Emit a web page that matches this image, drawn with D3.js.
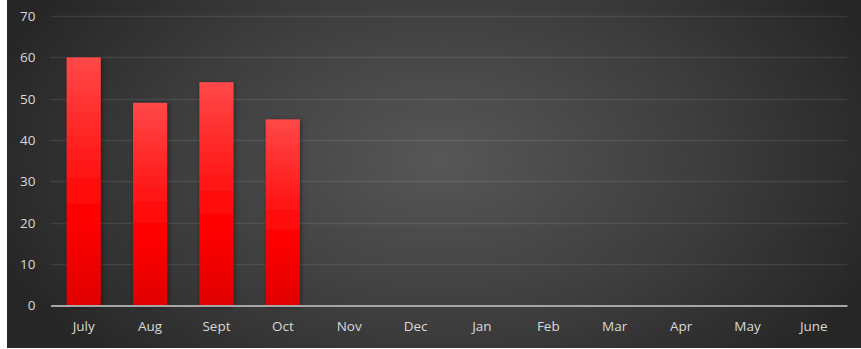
<!DOCTYPE html>
<html>
<head>
<meta charset="utf-8">
<script src="https://cdn.jsdelivr.net/npm/d3@7"></script>
<style>
  html, body { margin: 0; padding: 0; background: #ffffff; }
  svg { display: block; }
</style>
</head>
<body>
<svg id="chart" width="861" height="349"></svg>
<script>
// Monthly values (fiscal year July–June); only the first four months are filled in
const months = ["July", "Aug", "Sept", "Oct", "Nov", "Dec", "Jan", "Feb", "Mar", "Apr", "May", "June"];
const values = [60, 49, 54, 45, null, null, null, null, null, null, null, null];
const yTicks = [0, 10, 20, 30, 40, 50, 60, 70];

const W = 861, H = 349;
const margin = { left: 50.5, right: 14, top: 16, bottom: 43.5 };
const svg = d3.select("#chart");
const defs = svg.append("defs");

// Dark panel with a soft glow in the middle
const bg = defs.append("radialGradient").attr("id", "bgGlow")
  .attr("gradientUnits", "userSpaceOnUse")
  .attr("cx", 440).attr("cy", 160).attr("r", 470)
  .attr("gradientTransform", "translate(440,160) scale(1,0.62) translate(-440,-160)");
bg.append("stop").attr("offset", "0%").attr("stop-color", "#575757");
bg.append("stop").attr("offset", "55%").attr("stop-color", "#3e3e3e");
bg.append("stop").attr("offset", "100%").attr("stop-color", "#262626");

// Bar fill: lighter red on top, pure red mid, deeper red at the base
const barGrad = defs.append("linearGradient").attr("id", "barFill")
  .attr("x1", 0).attr("y1", 0).attr("x2", 0).attr("y2", 1);
barGrad.append("stop").attr("offset", "0%").attr("stop-color", "#ff4848");
barGrad.append("stop").attr("offset", "50%").attr("stop-color", "#ff1010");
barGrad.append("stop").attr("offset", "65%").attr("stop-color", "#ff0000");
barGrad.append("stop").attr("offset", "100%").attr("stop-color", "#e00000");

const shadow = defs.append("filter").attr("id", "barShadow")
  .attr("x", "-30%").attr("y", "-10%").attr("width", "160%").attr("height", "120%");
shadow.append("feDropShadow").attr("dx", 1).attr("dy", 1).attr("stdDeviation", 2.5)
  .attr("flood-color", "#000").attr("flood-opacity", 0.45);

svg.append("rect").attr("x", 7).attr("y", 0).attr("width", W - 7).attr("height", H - 1)
  .attr("fill", "url(#bgGlow)");

const x = d3.scaleBand().domain(months)
  .range([margin.left, W - margin.right]).paddingInner(0.486).paddingOuter(0.243);
const y = d3.scaleLinear().domain([0, 70]).range([H - margin.bottom, margin.top]);

// Horizontal gridlines
svg.append("g")
  .selectAll("line").data(yTicks.filter(d => d > 0)).join("line")
  .attr("x1", margin.left).attr("x2", W - margin.right)
  .attr("y1", d => Math.round(y(d)) + 0.5).attr("y2", d => Math.round(y(d)) + 0.5)
  .attr("stroke", "#ffffff").attr("stroke-opacity", 0.09).attr("stroke-width", 1.5);

// Bars
svg.append("g")
  .selectAll("rect").data(months.map((m, i) => ({ m, v: values[i] })).filter(d => d.v != null))
  .join("rect")
  .attr("x", d => x(d.m)).attr("width", x.bandwidth())
  .attr("y", d => y(d.v)).attr("height", d => y(0) - y(d.v))
  .attr("fill", "url(#barFill)")
  .attr("filter", "url(#barShadow)");

// Y axis labels
const yAxis = d3.axisLeft(y).tickValues(yTicks).tickSize(0).tickPadding(0);
const gy = svg.append("g").attr("transform", `translate(${margin.left - 15},0)`).call(yAxis);
gy.select(".domain").remove();
gy.selectAll("text")
  .attr("fill", "#d9d9d9").attr("font-family", "'Open Sans', sans-serif").attr("font-size", 13.5);

// X axis: baseline and month labels
const xAxis = d3.axisBottom(x).tickSize(0).tickPadding(16);
const gx = svg.append("g").attr("transform", `translate(0,${y(0)})`).call(xAxis);
gx.select(".domain").attr("stroke", "#a6a6a6").attr("stroke-width", 2);
gx.selectAll("text")
  .attr("fill", "#d9d9d9").attr("font-family", "'Open Sans', sans-serif").attr("font-size", 13.5);
</script>
</body>
</html>
